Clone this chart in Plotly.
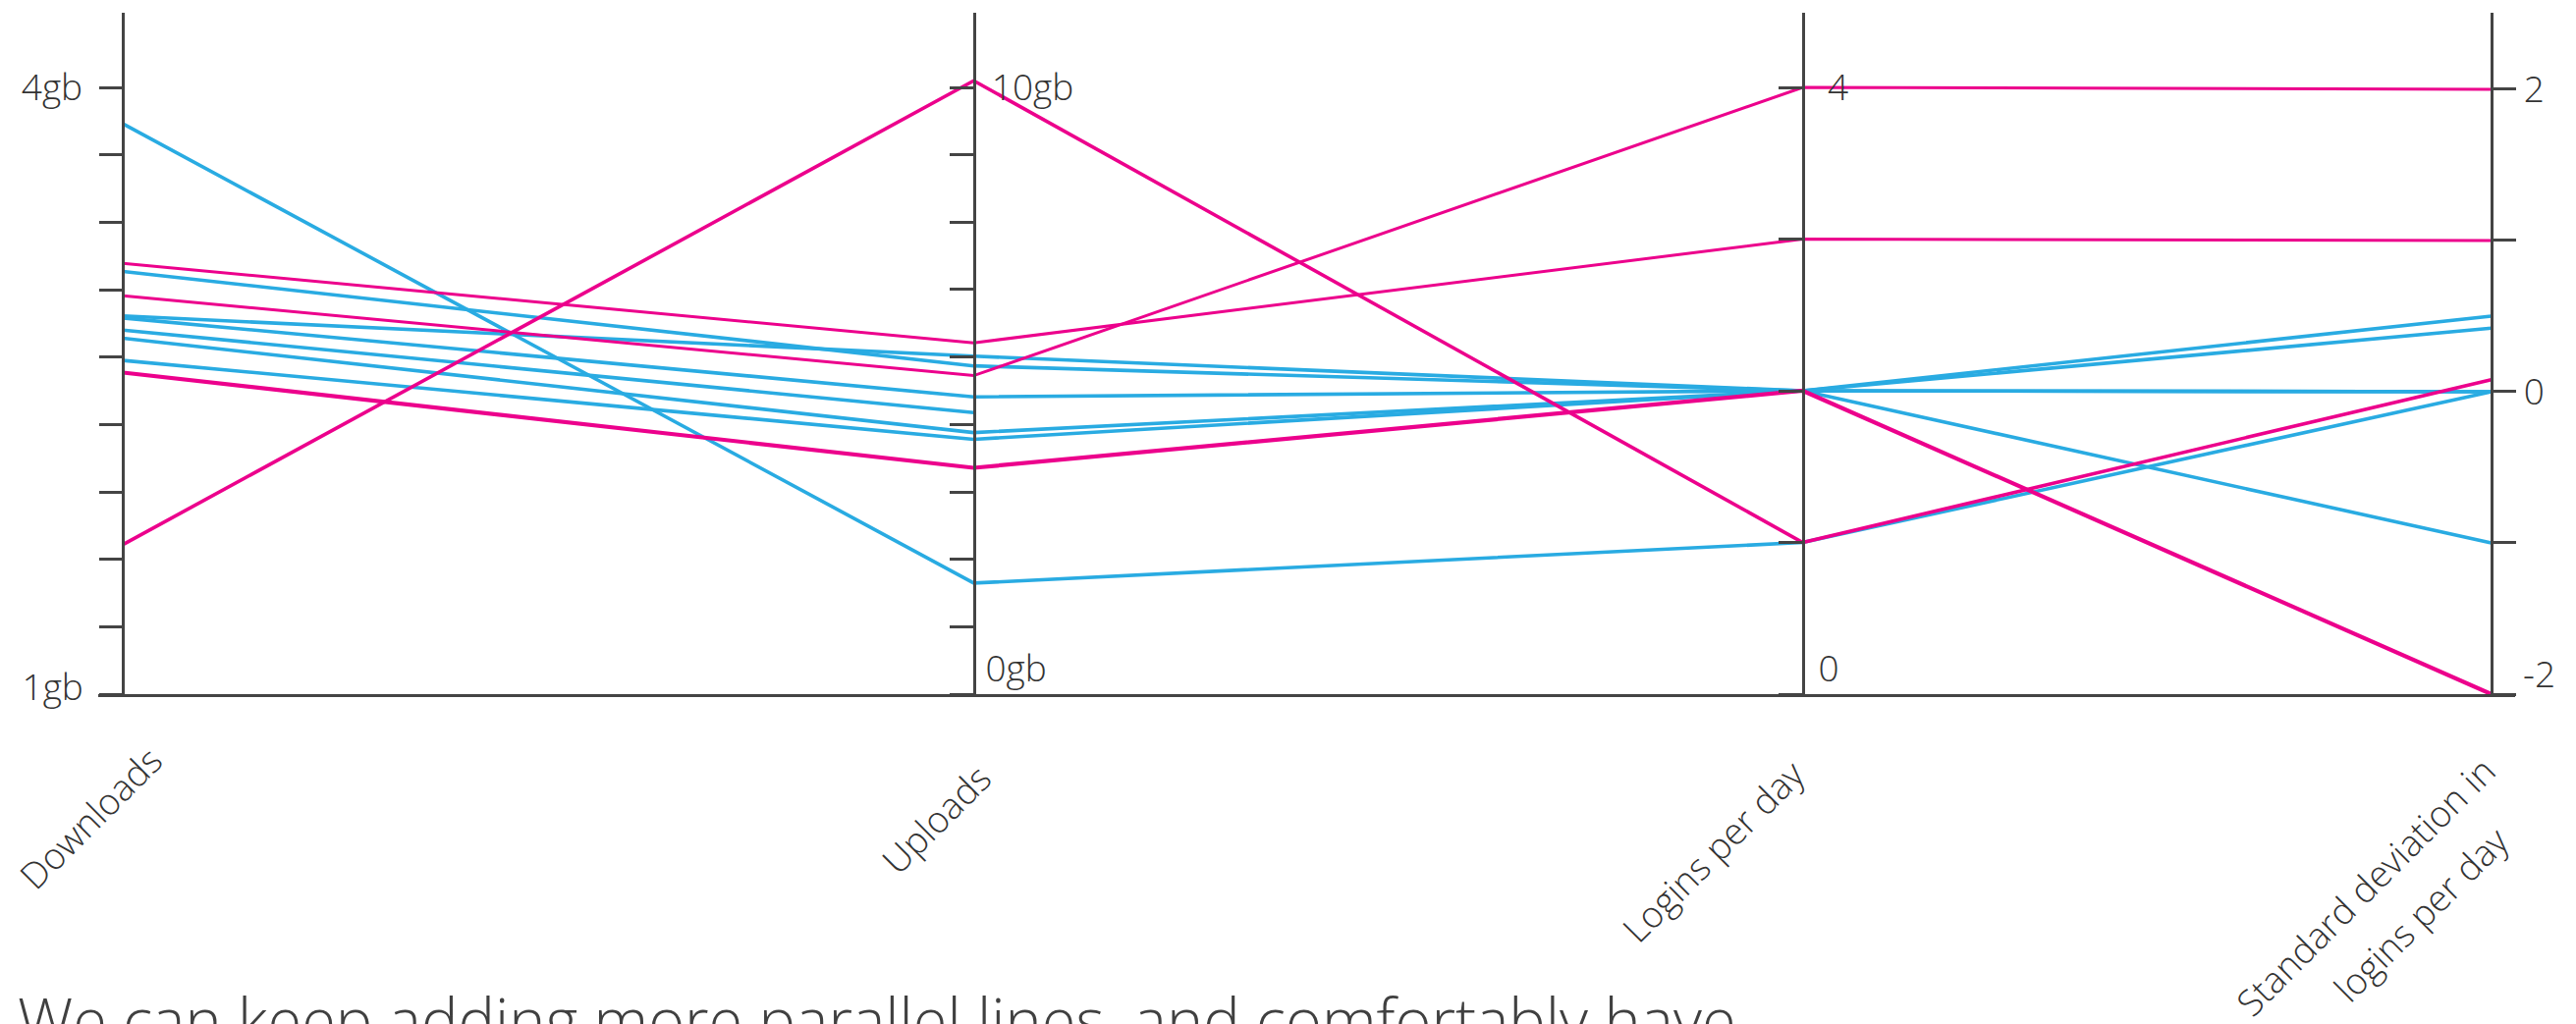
import plotly.graph_objects as go

# ---------------- data ----------------
dimension_names = ["Downloads", "Uploads", "Logins per day", "Standard deviation in", "logins per day"]
downloads_gb = [3.82, 3.13, 3.09, 2.97, 2.87, 2.86, 2.80, 2.76, 2.65, 2.59, 1.74]
uploads_gb = [1.83, 5.79, 5.41, 5.25, 5.57, 4.90, 4.64, 4.31, 4.20, 3.73, 10.11]
logins_per_day = [1, 3, 2, 4, 2, 2, None, 2, 2, 2, 1]
std_logins = [0, 1, 0.42, 2, 0.50, 0, None, -1, 0, -2, 0.08]
groups = ["blue", "pink", "blue", "pink", "blue", "blue", "blue", "blue", "blue", "pink", "pink"]

downloads_ticks = [1, 1.333, 1.667, 2, 2.333, 2.667, 3, 3.333, 3.667, 4]
downloads_ticktext = ["", "", "", "", "", "", "", "", "", "4gb"]
uploads_ticks = [0, 1.111, 2.222, 3.333, 4.444, 5.556, 6.667, 7.778, 8.889, 10]
uploads_ticktext = ["", "", "", "", "", "", "", "", "", "10gb"]
logins_ticks = [0, 1, 2, 3, 4]
logins_ticktext = ["", "", "", "", "4"]
std_ticks = [-2, -1, 0, 1, 2]
std_ticktext = ["", "", "0", "", "2"]
# bottom labels (drawn slightly raised off the baseline)
bottom_ticks = [1, 0, 0, -2]
bottom_ticktext = ["1gb", "0gb", "0", "-2"]

caption = "We can keep adding more parallel lines, and comfortably have"

# ---------------- layout / style ----------------
W, H = 2623, 1043
ML, MR, MT, MB = 100, 62, 13, 336
plot_w = W - ML - MR
plot_h = H - MT - MB
bottom_px = H - MB

axis_px = [125.3, 991.5, 1835.6, 2536.7]
axis_pos = [(p - ML) / plot_w for p in axis_px]
ranges = [[1, 4.369], [0, 11.23], [0, 4.492], [-2, 2.506]]

colors = {"blue": "#29ABE2", "pink": "#EC008C"}
widths = [3.6, 3.0, 3.6, 3.0, 3.6, 3.6, 3.6, 3.6, 3.6, 4.2, 3.6]
axis_color = "#444444"
text_color = "#333333"
FONT = "Open Sans"

dims = [downloads_gb, uploads_gb, logins_per_day, std_logins]


def norm(v, r):
    if v is None:
        return None
    return (v - r[0]) / (r[1] - r[0])


fig = go.Figure()

# hidden traces binding each visible dimension axis (main + bottom-label axes)
for k, vals in enumerate(dims):
    for ax in (k + 2, k + 6):
        fig.add_trace(go.Scatter(
            x=[axis_pos[k]] * len(vals), y=vals, yaxis="y" + str(ax),
            mode="markers", marker=dict(opacity=0, size=1), hoverinfo="skip", showlegend=False))

order = [i for i, g in enumerate(groups) if g == "blue"] + [i for i, g in enumerate(groups) if g == "pink"]
for i in order:
    ys = [norm(dims[k][i], ranges[k]) for k in range(4)]
    fig.add_trace(go.Scatter(
        x=axis_pos, y=ys, mode="lines", connectgaps=False,
        line=dict(color=colors[groups[i]], width=widths[i]),
        hoverinfo="skip", showlegend=False))

tickfont = dict(family=FONT, size=37, color=text_color, weight=300)


def dim_axis(k, side, labelpos, tickvals, ticktext, standoff):
    return dict(
        overlaying="y", anchor="free", position=axis_pos[k], side=side,
        range=ranges[k], tickvals=tickvals, ticktext=ticktext,
        ticks="outside", ticklen=24, tickwidth=2.5, tickcolor=axis_color,
        ticklabelposition=labelpos, ticklabelstandoff=standoff,
        showline=True, linecolor=axis_color, linewidth=2.5,
        showgrid=False, zeroline=False, tickfont=tickfont, fixedrange=True)


def label_axis(k, side, labelpos, standoff, shift):
    return dict(
        overlaying="y", anchor="free", position=axis_pos[k], side=side,
        range=ranges[k], tickvals=[bottom_ticks[k]], ticktext=[bottom_ticktext[k]],
        ticks="outside", ticklen=24, tickcolor="rgba(0,0,0,0)",
        ticklabelposition=labelpos, ticklabelstandoff=standoff, ticklabelshift=shift,
        showline=False, showgrid=False, zeroline=False, tickfont=tickfont, fixedrange=True)


annotations = []
label_ends_px = [(178, 746), (1023, 764), (1851, 760), (2554, 757), (2568, 828)]
for name, (px, py) in zip(dimension_names, label_ends_px):
    annotations.append(dict(
        text=name, xref="paper", yref="paper",
        x=(px - ML) / plot_w, y=(bottom_px - py) / plot_h,
        xanchor="right", yanchor="top", textangle=-45, showarrow=False,
        font=dict(family=FONT, size=37, color=text_color, weight=300)))

annotations.append(dict(
    text=caption, xref="paper", yref="paper",
    x=(16 - ML) / plot_w, y=(bottom_px - 993) / plot_h,
    xanchor="left", yanchor="top", showarrow=False,
    font=dict(family=FONT, size=63, color="#404040", weight=300)))

fig.update_layout(
    width=W, height=H,
    margin=dict(l=ML, r=MR, t=MT, b=MB, autoexpand=False),
    paper_bgcolor="white", plot_bgcolor="white",
    showlegend=False,
    xaxis=dict(range=[0, 1], showline=True, linecolor=axis_color, linewidth=3,
               showticklabels=False, ticks="", showgrid=False, zeroline=False, fixedrange=True),
    yaxis=dict(range=[0, 1], visible=False, fixedrange=True),
    yaxis2=dim_axis(0, "left", "outside", downloads_ticks, downloads_ticktext, 9),
    yaxis3=dim_axis(1, "left", "inside", uploads_ticks, uploads_ticktext, 21),
    yaxis4=dim_axis(2, "left", "inside", logins_ticks, logins_ticktext, 28),
    yaxis5=dim_axis(3, "right", "outside", std_ticks, std_ticktext, 0),
    yaxis6=label_axis(0, "left", "outside", 9, -7),
    yaxis7=label_axis(1, "left", "inside top", 8, 0),
    yaxis8=label_axis(2, "left", "inside top", 12, 0),
    yaxis9=label_axis(3, "right", "outside", 0, -20),
    annotations=annotations,
)

fig.write_html("out.html", config={"displayModeBar": False},
               post_script="document.body.style.margin='0';")
